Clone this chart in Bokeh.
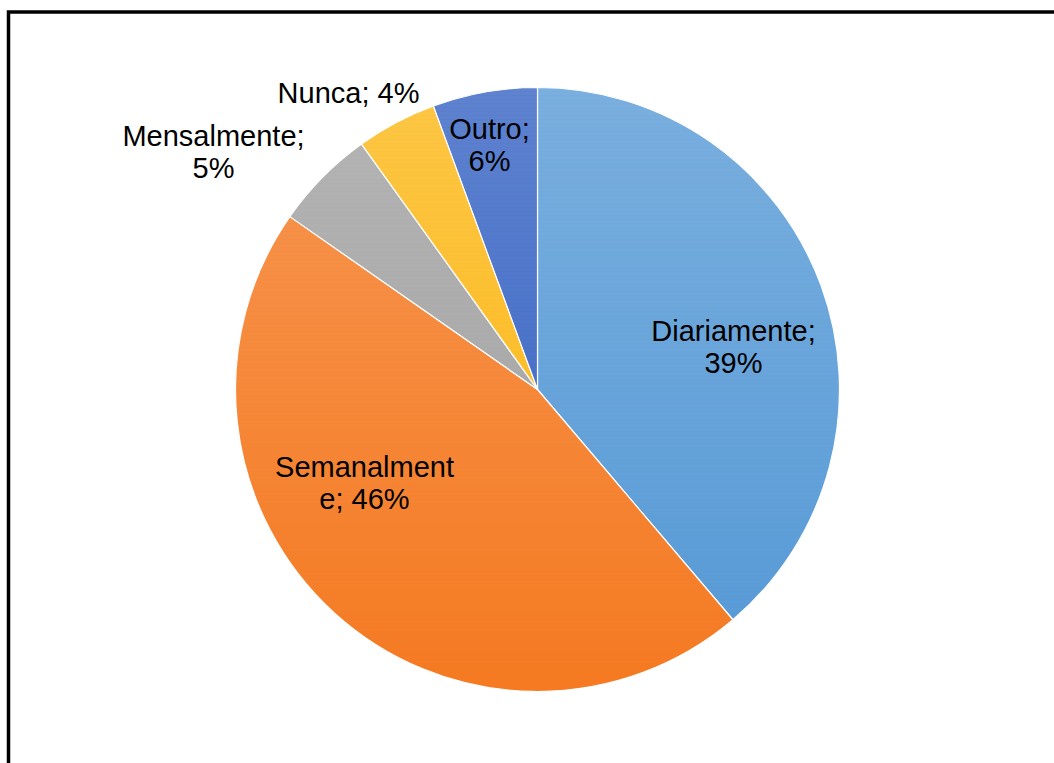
import numpy as np
from bokeh.plotting import figure
from bokeh.models import ColumnDataSource, Range1d
from bokeh.core.properties import value
from bokeh.embed import file_html
from bokeh.resources import INLINE

# ---- data ----
categories = ["Diariamente", "Semanalmente", "Mensalmente", "Nunca", "Outro"]
shares = [38.8, 45.9, 5.4, 4.3, 5.6]
display_labels = ["Diariamente;\n39%", "Semanalment\ne; 46%", "Mensalmente;\n5%", "Nunca; 4%", "Outro;\n6%"]

# ---- styles / layout ----
colors = ["#5599d6", "#f57a22", "#a0a0a0", "#fcb611", "#3260c2"]
W, H = 1054, 763
cx, cy, R = 537, H - 389, 302
label_pos = [(733, 346), (364, 482), (213, 151), (348, 92), (489, 144)]  # screen px (x, y from top)

p = figure(width=W, height=H, output_backend="svg", toolbar_location=None,
           x_range=Range1d(0, W), y_range=Range1d(0, H), min_border=0)
p.axis.visible = False
p.grid.visible = False
p.outline_line_color = None
p.background_fill_color = "white"
p.border_fill_color = "white"

vals = np.array(shares, dtype=float)
frac = vals / vals.sum()
cum = np.concatenate([[0], np.cumsum(frac)])
start = np.pi / 2 - 2 * np.pi * cum[:-1]
end = np.pi / 2 - 2 * np.pi * cum[1:]

src = ColumnDataSource(dict(cat=categories, val=shares, start=start, end=end, color=colors))
p.wedge(x=cx, y=cy, radius=R, start_angle="start", end_angle="end", direction="clock",
        fill_color="color", line_color="white", line_width=1.2, source=src)

# soft vertical light gradient overlay (white, fading downwards)
top_y, bot_y = H - (389 - R), H - (389 + R)
edges = np.arange(bot_y, top_y + 4, 4)
bottoms = edges[:-1]
tops = np.minimum(edges[1:], top_y)
alphas = 0.22 * ((bottoms + tops) / 2 - bot_y) / (top_y - bot_y)
p.quad(left=cx - R - 2, right=cx + R + 2, bottom=bottoms, top=tops,
       fill_color="white", fill_alpha=alphas, line_color=None)

# labels
lx = [x for x, _ in label_pos]
ly = [H - y for _, y in label_pos]
p.text(x=lx, y=ly, text=display_labels, text_align="center", text_baseline="middle",
       text_font=value("Liberation Sans"), text_font_size="29px", text_color="#000000",
       text_line_height=1.0)

# outer frame (partially outside the window)
fy = H - 11.5
p.line(x=[8, 8, W + 20], y=[-20, fy, fy], line_color="black", line_width=3.5, line_join="miter")

open("out.html", "w").write(file_html(p, INLINE))
